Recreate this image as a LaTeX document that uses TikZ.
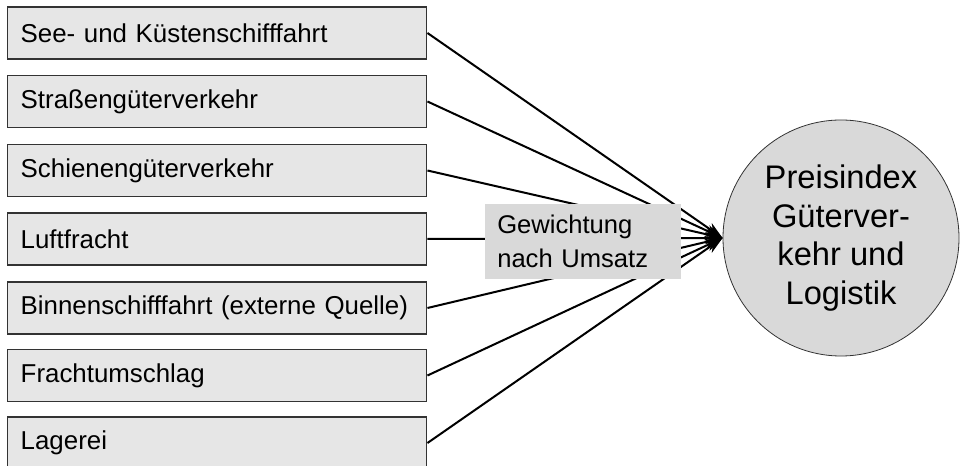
\documentclass[tikz,border=0pt]{standalone}
\usepackage{fontspec}
\setmainfont{Liberation Sans}
\usetikzlibrary{arrows.meta}
\definecolor{boxfill}{HTML}{E6E6E6}
\definecolor{circfill}{HTML}{D9D9D9}
\definecolor{edge}{HTML}{333333}
\tikzset{
  srcbox/.style={draw=edge, line width=1.1pt, fill=boxfill, rectangle, anchor=west,
    minimum height=39pt, text width=294.75pt, inner xsep=9.75pt, inner ysep=0pt, align=left,
    font=\fontsize{19.4}{22}\selectfont},
  conn/.style={line width=1.5pt, -{Stealth[length=13pt,width=9pt]}},
  weight/.style={fill=circfill, rectangle, inner xsep=9pt, inner ysep=3pt, align=left,
    text width=129pt, minimum height=56pt, font=\fontsize{19.2}{25.5}\selectfont},
  target/.style={circle, draw=edge, line width=0.6pt, fill=circfill, minimum size=177pt, inner sep=0pt,
    align=center, font=\fontsize{24.5}{29}\selectfont}
}
\begin{document}
\begin{tikzpicture}[x=0.75pt,y=-0.75pt]
\useasboundingbox (0,0) rectangle (961,466);
\node[srcbox] (b1) at (7,33) {See- und Küstenschifffahrt};
\node[srcbox] (b2) at (7,101.5) {Straßengüterverkehr};
\node[srcbox] (b3) at (7,170.5) {Schienengüterverkehr};
\node[srcbox] (b4) at (7,239) {Luftfracht};
\node[srcbox] (b5) at (7,308) {Binnenschifffahrt (externe Quelle)};
\node[srcbox] (b6) at (7,375.5) {Frachtumschlag};
\node[srcbox] (b7) at (7,443) {Lagerei};
\node[target] (t) at (841,238) {Preisindex\\Güterver-\\kehr und\\Logistik};
\coordinate (tip) at (t.west);
\foreach \b in {b1,b2,b3,b4,b5,b6,b7}{
  \draw[conn] (\b.east) -- (tip);
}
\node[weight, anchor=north west] (w) at (485,204) {Gewichtung\\nach Umsatz};
\end{tikzpicture}
\end{document}
